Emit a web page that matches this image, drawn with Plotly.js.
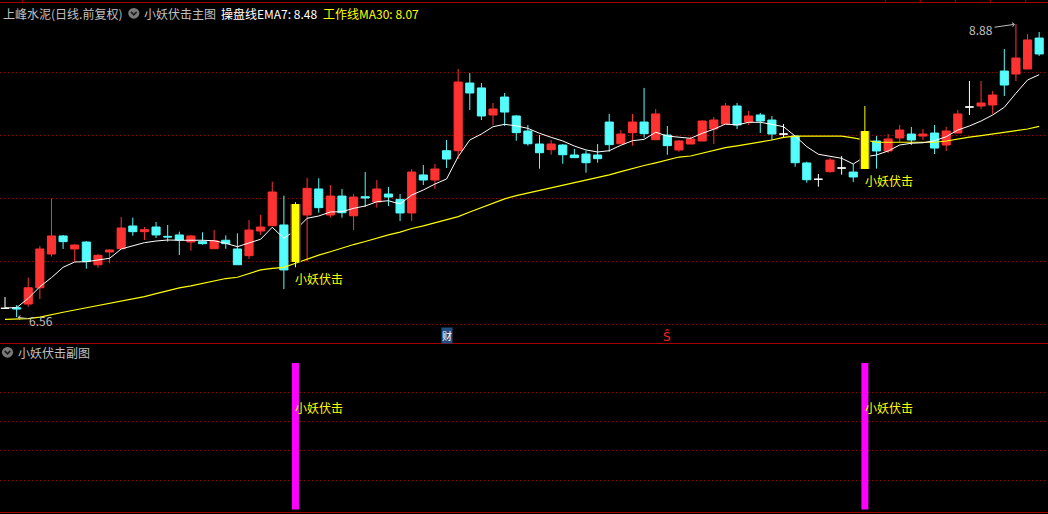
<!DOCTYPE html>
<html><head><meta charset="utf-8">
<script src="https://cdn.plot.ly/plotly-3.0.1.min.js"></script>
<style>html,body{margin:0;padding:0;background:#000;}#chart{width:1048px;height:514px;}</style>
</head><body><div id="chart"></div>
<script>
// ---------------- data ----------------
const stockName = '上峰水泥(日线.前复权)';
const mainTitle = '小妖伏击主图';
const subTitle = '小妖伏击副图';
const signalText = '小妖伏击';

const openP = [6.63,6.635,6.664,6.793,7.06,7.203,7.10,7.155,6.975,7.076,
7.102,7.282,7.237,7.274,7.20,7.211,7.155,7.158,7.102,7.169,
7.10,7.047,7.242,7.284,7.29,6.997,7.369,7.575,7.369,7.519,
7.363,7.514,7.472,7.535,7.493,7.385,7.686,7.646,7.878,7.878,
8.414,8.375,8.161,8.303,8.153,8.034,7.931,7.886,7.923,7.844,
7.852,7.844,8.105,7.933,8.021,8.105,7.965,8.002,7.884,7.931,
7.955,8.05,8.089,8.232,8.105,8.161,8.121,8.01,7.994,7.781,
7.652,7.712,7.741,7.709,7.733,7.955,7.876,7.979,8.01,7.994,
8.018,7.923,8.018,8.224,8.232,8.24,8.509,8.485,8.525,8.77];

const highP = [6.72,6.656,6.873,7.124,7.50,7.211,7.139,7.163,7.06,7.097,
7.353,7.348,7.274,7.314,7.29,7.237,7.211,7.232,7.25,7.208,
7.224,7.329,7.371,7.633,7.522,7.47,7.662,7.66,7.606,7.575,
7.535,7.709,7.646,7.591,7.535,7.733,7.765,7.773,7.963,8.525,
8.493,8.414,8.256,8.335,8.161,8.082,8.002,7.963,7.931,7.892,
7.878,7.931,8.169,8.042,8.169,8.375,8.208,8.074,7.963,7.989,
8.118,8.145,8.256,8.256,8.193,8.177,8.153,8.089,7.994,7.791,
7.694,7.820,7.836,7.773,8.232,7.994,8.01,8.082,8.066,8.05,
8.082,8.066,8.20,8.43,8.43,8.351,8.683,8.88,8.802,8.818];

const lowP = [6.63,6.56,6.643,6.704,7.04,7.10,7.00,6.944,6.952,6.987,
7.10,7.205,7.171,7.187,7.158,7.052,7.086,7.134,7.102,7.102,
6.975,7.021,7.211,7.284,6.783,6.955,7.00,7.387,7.348,7.348,
7.25,7.432,7.427,7.44,7.321,7.321,7.606,7.575,7.741,7.812,
8.20,8.121,8.082,8.074,7.957,7.918,7.736,7.846,7.775,7.823,
7.704,7.783,7.870,7.933,7.918,7.981,7.965,7.846,7.870,7.931,
7.955,7.931,8.089,8.05,8.082,8.018,7.963,7.987,7.751,7.625,
7.593,7.704,7.688,7.630,7.733,7.736,7.86,7.947,7.923,7.963,
7.852,7.876,8.018,8.161,8.208,8.169,8.311,8.43,8.525,8.628];

const closeP = [6.63,6.625,6.793,7.10,7.203,7.158,7.131,7.00,7.05,7.092,
7.266,7.237,7.253,7.211,7.195,7.171,7.203,7.142,7.165,7.142,
6.975,7.25,7.274,7.551,6.934,7.456,7.58,7.427,7.519,7.387,
7.511,7.504,7.575,7.511,7.385,7.709,7.646,7.733,7.812,8.422,
8.335,8.153,8.208,8.184,8.021,7.933,7.862,7.931,7.846,7.823,
7.783,7.815,7.926,8.01,8.105,8.013,8.169,7.918,7.955,7.971,
8.113,8.121,8.232,8.082,8.153,8.113,8.010,8.01,7.783,7.648,
7.652,7.804,7.741,7.670,8.034,7.876,7.971,8.042,7.963,8.01,
7.899,8.034,8.169,8.224,8.256,8.319,8.398,8.612,8.755,8.644];

const ema7 = [6.633,6.635,6.709,6.801,6.873,6.955,6.997,6.999,7.013,7.026,
7.10,7.124,7.150,7.163,7.171,7.169,7.171,7.169,7.165,7.145,
7.118,7.145,7.177,7.272,7.184,7.25,7.343,7.361,7.393,7.395,
7.422,7.440,7.474,7.482,7.456,7.527,7.567,7.614,7.654,7.831,
7.963,8.010,8.068,8.087,8.075,8.055,8.016,7.984,7.955,7.915,
7.884,7.868,7.878,7.921,7.957,7.968,8.024,7.994,7.984,7.976,
8.016,8.048,8.089,8.082,8.103,8.103,8.087,8.068,7.994,7.910,
7.850,7.831,7.818,7.773,7.83,7.844,7.876,7.923,7.937,7.941,
7.957,7.989,8.042,8.074,8.113,8.161,8.222,8.333,8.438,8.48];

const ma30 = [6.542,6.545,6.548,6.561,6.582,6.599,6.617,6.634,6.650,6.666,
6.684,6.704,6.723,6.747,6.771,6.792,6.808,6.827,6.850,6.866,
6.876,6.906,6.935,6.947,6.954,6.987,7.021,7.051,7.078,7.108,
7.135,7.159,7.187,7.211,7.234,7.262,7.283,7.308,7.331,7.356,
7.393,7.428,7.468,7.497,7.523,7.543,7.561,7.583,7.603,7.622,
7.642,7.662,7.687,7.713,7.740,7.761,7.782,7.806,7.828,7.836,
7.857,7.884,7.903,7.917,7.931,7.945,7.963,7.983,7.993,7.994,
7.994,7.994,7.994,7.979,7.963,7.945,7.945,7.945,7.945,7.945,
7.945,7.955,7.967,7.985,7.998,8.010,8.024,8.036,8.050,8.07];

const signalBars = [25, 74];     // bars where the signal fires
const signalHeight = [100, 100]; // sub-chart stick value
const priceGrid = [6.5, 7, 7.5, 8, 8.5];
const subGrid = [20, 40, 60, 80];
const caiIdx = 38;  // 财 marker day
const sIdx = 57;    // S marker day

// ---------------- helpers ----------------
const W = 1048, H = 514;
const px = v => v / W;
const py = v => 1 - v / H;
const idx = openP.map((_, i) => i);
const isSignal = i => signalBars.includes(i);
const isDoji = i => openP[i] === closeP[i];
const normal = idx.filter(i => !isSignal(i) && !isDoji(i));
const doji = idx.filter(i => !isSignal(i) && isDoji(i));
const pick = (arr, ids) => ids.map(i => arr[i]);

const RED = '#ff3232', CYAN = '#54fcfc', YEL = '#ffff00', GRAY = '#c0c0c0', GRID = '#a00000', BORDER = '#a80000';
const FONT = "'Noto Sans CJK SC', 'Noto Sans', sans-serif";

const xRange = [-0.43, 89.76];
const yRange = [6.3555, 9.0713];
const y2Range = [-3.0, 113.7];
const splitY = 0.33268;

const traces = [];
traces.push({
  type: 'candlestick', x: normal, open: pick(openP, normal), high: pick(highP, normal),
  low: pick(lowP, normal), close: pick(closeP, normal), xaxis: 'x', yaxis: 'y',
  increasing: {line: {color: RED, width: 1}, fillcolor: RED},
  decreasing: {line: {color: CYAN, width: 1}, fillcolor: CYAN},
  whiskerwidth: 0, showlegend: false, hoverinfo: 'skip'
});
traces.push({
  type: 'candlestick', x: doji, open: pick(openP, doji), high: pick(highP, doji),
  low: pick(lowP, doji), close: pick(closeP, doji), xaxis: 'x', yaxis: 'y',
  increasing: {line: {color: '#ffffff', width: 1}, fillcolor: '#ffffff'},
  decreasing: {line: {color: '#ffffff', width: 1}, fillcolor: '#ffffff'},
  whiskerwidth: 0, showlegend: false, hoverinfo: 'skip'
});
traces.push({type: 'scatter', mode: 'lines', x: idx, y: ma30, xaxis: 'x', yaxis: 'y',
  line: {color: YEL, width: 1.2}, hoverinfo: 'skip', showlegend: false});
traces.push({type: 'scatter', mode: 'lines', x: idx, y: ema7, xaxis: 'x', yaxis: 'y',
  line: {color: '#ffffff', width: 1}, hoverinfo: 'skip', showlegend: false});

// signal candles drawn in an overlay subplot so they sit above the lines
const sigO = pick(openP, signalBars), sigC = pick(closeP, signalBars);
traces.push({type: 'bar', x: signalBars, base: sigO, y: sigC.map((c, k) => c - sigO[k]),
  width: 0.92, marker: {color: '#4e3226', line: {width: 0}}, xaxis: 'x3', yaxis: 'y3',
  hoverinfo: 'skip', showlegend: false});
const wx = [], wy = [];
signalBars.forEach(i => { wx.push(i, i, null); wy.push(lowP[i], highP[i], null); });
traces.push({type: 'scatter', mode: 'lines', x: wx, y: wy, xaxis: 'x3', yaxis: 'y3',
  line: {color: YEL, width: 1}, hoverinfo: 'skip', showlegend: false});
traces.push({type: 'bar', x: signalBars, base: sigO, y: sigC.map((c, k) => c - sigO[k]),
  width: 0.66, marker: {color: YEL, line: {width: 0}}, xaxis: 'x3', yaxis: 'y3',
  hoverinfo: 'skip', showlegend: false});

// sub chart sticks
traces.push({type: 'bar', x: signalBars, y: signalHeight, width: 0.6,
  marker: {color: '#ff00ff', line: {width: 0}}, xaxis: 'x2', yaxis: 'y2',
  hoverinfo: 'skip', showlegend: false});

const axBase = {showgrid: false, zeroline: false, showticklabels: false, ticks: '', showline: false, fixedrange: true};
const gridAx = {showgrid: true, gridcolor: GRID, gridwidth: 1, griddash: '1px,3px', zeroline: false,
  showticklabels: false, ticks: '', showline: false, fixedrange: true, tickmode: 'array'};

const shapes = [];
const hline = (y) => ({type: 'line', xref: 'paper', yref: 'paper', x0: 0, x1: 1, y0: py(y), y1: py(y), line: {color: BORDER, width: 1}});
shapes.push(hline(2.5), hline(343.5), hline(512.5));
[22.7, 885.3, 920.3, 955.3, 990.3, 1025.7].forEach(x => shapes.push({type: 'line', xref: 'paper', yref: 'paper',
  x0: px(x), x1: px(x), y0: py(0), y1: py(2.5), line: {color: BORDER, width: 1}}));
function icon(cx, cy) {
  shapes.push({type: 'circle', xref: 'paper', yref: 'paper', x0: px(cx - 5.6), x1: px(cx + 5.6),
    y0: py(cy + 5.4), y1: py(cy - 5.4), fillcolor: '#7a7a7a', line: {width: 0}});
  shapes.push({type: 'path', xref: 'paper', yref: 'paper',
    path: `M ${px(cx - 2.8)},${py(cy - 1.4)} L ${px(cx)},${py(cy + 1.6)} L ${px(cx + 2.8)},${py(cy - 1.4)}`,
    line: {color: '#1c1c1c', width: 1.6}});
}
icon(133.8, 13.3);
icon(7.5, 352.3);

const annotations = [];
const lab = (x, y, text, color, size) => ({xref: 'paper', yref: 'paper', x: px(x), y: py(y), text: text,
  showarrow: false, xanchor: 'left', yanchor: 'middle', xshift: -2, font: {color: color, size: size || 12, family: FONT}});
annotations.push(lab(3, 13.5, stockName, GRAY));
annotations.push(lab(144, 13.5, mainTitle, GRAY));
annotations.push(lab(221, 13.5, '操盘线EMA7: ' + ema7[ema7.length - 1].toFixed(2), '#ffffff'));
annotations.push(lab(323, 13.5, '工作线MA30: ' + ma30[ma30.length - 1].toFixed(2), YEL));
annotations.push(lab(18, 352.5, subTitle, GRAY));

signalBars.forEach(i => {
  annotations.push({xref: 'x', yref: 'y', x: i, y: lowP[i], text: signalText, showarrow: false,
    xanchor: 'left', yanchor: 'top', xshift: -2, yshift: -1, font: {color: YEL, size: 12, family: FONT}});
  annotations.push({xref: 'x2', yref: 'y2', x: i, y: 70, text: signalText, showarrow: false,
    xanchor: 'left', yanchor: 'middle', xshift: -2, font: {color: YEL, size: 12, family: FONT}});
});

const hi = Math.max(...highP), iHi = highP.indexOf(hi);
const lo = Math.min(...lowP), iLo = lowP.indexOf(lo);
annotations.push({xref: 'x', yref: 'y', x: iHi, y: hi, text: hi.toFixed(2), showarrow: true,
  ax: -35, ay: 5, arrowcolor: GRAY, arrowwidth: 1, arrowhead: 4, arrowsize: 0.8, standoff: 1,
  font: {color: GRAY, size: 12, family: FONT}});
annotations.push({xref: 'x', yref: 'y', x: iLo, y: lo, text: lo.toFixed(2), showarrow: true,
  ax: 24, ay: 3, arrowcolor: GRAY, arrowwidth: 1, arrowhead: 4, arrowsize: 0.8, standoff: 1,
  font: {color: GRAY, size: 12, family: FONT}});
annotations.push({xref: 'x', yref: 'paper', x: caiIdx, y: py(335.7), text: '财', showarrow: false,
  bgcolor: '#1f4f82', borderpad: 0, font: {color: '#ffffff', size: 10, family: FONT}});
annotations.push({xref: 'x', yref: 'paper', x: sIdx, y: py(336), text: 'Ŝ', showarrow: false,
  font: {color: '#ff2020', size: 12, family: 'DejaVu Sans'}});

const layout = {
  width: W, height: H, margin: {l: 0, r: 0, t: 0, b: 0, pad: 0},
  paper_bgcolor: '#000000', plot_bgcolor: '#000000',
  font: {family: FONT, size: 12, color: GRAY},
  showlegend: false, hovermode: false, dragmode: false,
  boxgap: 0.3, boxgroupgap: 0, barmode: 'overlay',
  xaxis: Object.assign({domain: [0, 1], range: xRange, anchor: 'y', rangeslider: {visible: false}}, axBase),
  yaxis: Object.assign({domain: [splitY, 1], range: yRange, anchor: 'x', tickvals: priceGrid}, gridAx),
  xaxis2: Object.assign({domain: [0, 1], range: xRange, anchor: 'y2'}, axBase),
  yaxis2: Object.assign({domain: [0, splitY], range: y2Range, anchor: 'x2', tickvals: subGrid}, gridAx),
  xaxis3: Object.assign({range: xRange, overlaying: 'x', anchor: 'y3', visible: false}, axBase),
  yaxis3: Object.assign({range: yRange, overlaying: 'y', anchor: 'x3', visible: false}, axBase),
  shapes: shapes, annotations: annotations
};

Plotly.newPlot('chart', traces, layout, {staticPlot: true, displayModeBar: false});
</script>
</body></html>
